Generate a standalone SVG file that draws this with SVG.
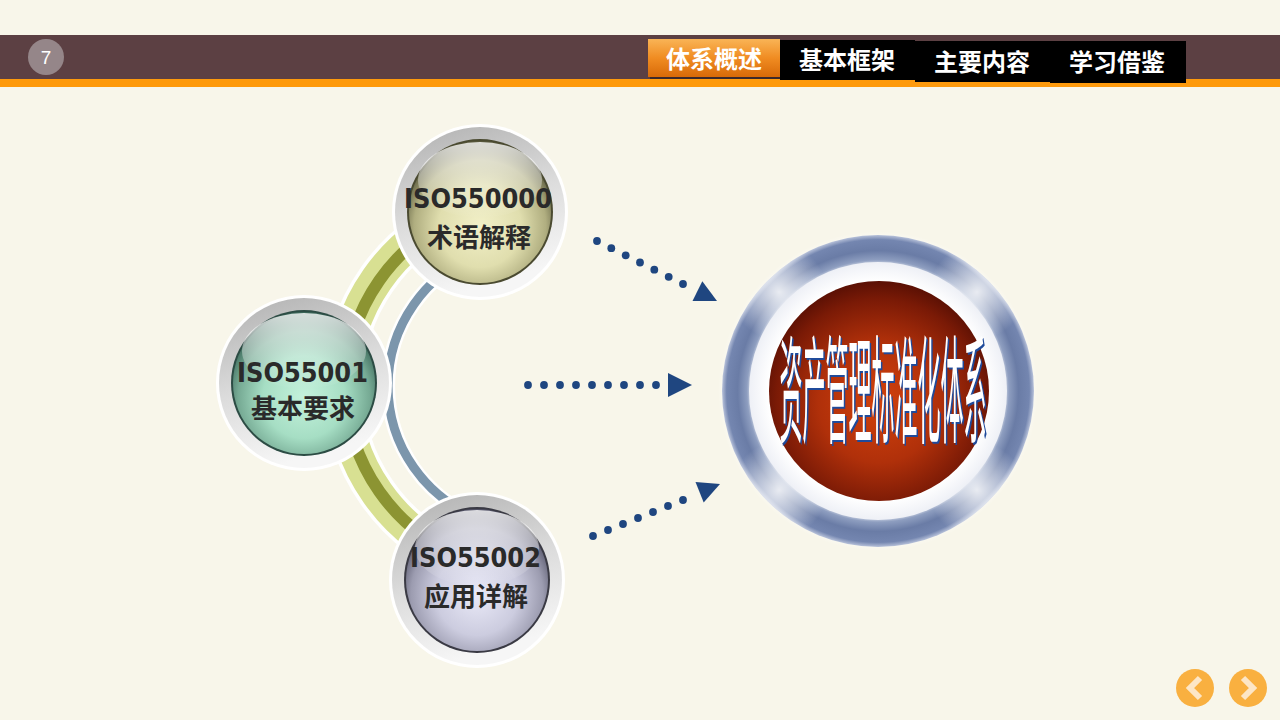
<svg xmlns="http://www.w3.org/2000/svg" width="1280" height="720" viewBox="0 0 1280 720">
<defs>
<style>
.tab{font-family:"Noto Sans CJK SC","Noto Sans",sans-serif;font-weight:700;font-size:24px;fill:#ffffff;text-anchor:middle}
.iso{font-family:"DejaVu Sans","Liberation Sans",sans-serif;font-weight:700;font-size:27px;fill:#2a2a2a;text-anchor:middle}
.cn{font-family:"Noto Sans CJK SC",sans-serif;font-weight:700;font-size:26px;fill:#2a2a2a;text-anchor:middle}
.dot{fill:#1f4680}
.head{fill:#1f4680}
</style>
<linearGradient id="tabG" x1="0" y1="0" x2="0" y2="1">
<stop offset="0" stop-color="#f9b456"/><stop offset="0.5" stop-color="#f08c22"/><stop offset="1" stop-color="#d86a08"/>
</linearGradient>
<linearGradient id="ringGray" x1="0" y1="0" x2="0.3" y2="1">
<stop offset="0" stop-color="#b0b0b0"/><stop offset="0.55" stop-color="#dcdcdc"/><stop offset="1" stop-color="#f6f6f6"/>
</linearGradient>
<radialGradient id="sphY" cx="0.5" cy="0.6" r="0.58">
<stop offset="0" stop-color="#f2f0c8"/><stop offset="0.5" stop-color="#e0deae"/><stop offset="0.8" stop-color="#b0ae80"/><stop offset="1" stop-color="#56563a"/>
</radialGradient>
<radialGradient id="sphG" cx="0.5" cy="0.6" r="0.58">
<stop offset="0" stop-color="#c4f2dc"/><stop offset="0.5" stop-color="#a6dec4"/><stop offset="0.8" stop-color="#76aa94"/><stop offset="1" stop-color="#3a6658"/>
</radialGradient>
<radialGradient id="sphV" cx="0.5" cy="0.6" r="0.58">
<stop offset="0" stop-color="#eaeaf8"/><stop offset="0.5" stop-color="#ccccdf"/><stop offset="0.8" stop-color="#9c9cb0"/><stop offset="1" stop-color="#525266"/>
</radialGradient>
<linearGradient id="hl" x1="0" y1="0" x2="0" y2="1">
<stop offset="0" stop-color="#ffffff" stop-opacity="0.8"/><stop offset="1" stop-color="#ffffff" stop-opacity="0"/>
</linearGradient>
<radialGradient id="redG" cx="0.5" cy="0.55" r="0.55">
<stop offset="0" stop-color="#d2420c"/><stop offset="0.5" stop-color="#b0300a"/><stop offset="0.85" stop-color="#7a1a06"/><stop offset="1" stop-color="#5a1004"/>
</radialGradient>
<radialGradient id="blueRing" cx="0.5" cy="0.5" r="0.5">
<stop offset="0.8" stop-color="#f4f6fa"/><stop offset="0.84" stop-color="#8e9ec0"/><stop offset="0.9" stop-color="#6a7ca6"/><stop offset="0.97" stop-color="#7486b0"/><stop offset="1" stop-color="#b8c2da"/>
</radialGradient>
<radialGradient id="wblob" cx="0.5" cy="0.5" r="0.5">
<stop offset="0" stop-color="#ffffff" stop-opacity="0.85"/><stop offset="0.5" stop-color="#ffffff" stop-opacity="0.45"/><stop offset="1" stop-color="#ffffff" stop-opacity="0"/>
</radialGradient>
<radialGradient id="innerW" cx="0.5" cy="0.5" r="0.5">
<stop offset="0.85" stop-color="#ffffff"/><stop offset="1" stop-color="#eef0f6"/>
</radialGradient>
<radialGradient id="halo" cx="0.5" cy="0.5" r="0.5">
<stop offset="0.9" stop-color="#ffffff" stop-opacity="1"/><stop offset="1" stop-color="#ffffff" stop-opacity="0"/>
</radialGradient>
<clipPath id="bigClip"><circle cx="878" cy="391" r="156"/></clipPath>
</defs>

<rect x="0" y="0" width="1280" height="720" fill="#f8f6ea"/>

<g id="header">
<rect x="0" y="35" width="1280" height="44" fill="#5c4043"/>
<rect x="0" y="79" width="1280" height="8" fill="#fe9a0c"/>
<circle cx="46" cy="57" r="18" fill="#958689"/>
<text x="46" y="64" font-family="Liberation Sans, sans-serif" font-size="19" fill="#ffffff" text-anchor="middle">7</text>
<rect x="650" y="41" width="132" height="38" fill="#000000" opacity="0.35"/>
<rect x="648" y="39" width="132" height="38" fill="url(#tabG)"/>
<text class="tab" x="714" y="68">体系概述</text>
<rect x="780" y="40" width="135" height="40" fill="#000000"/>
<text class="tab" x="847" y="69">基本框架</text>
<rect x="915" y="41" width="135" height="41" fill="#000000"/>
<text class="tab" x="982" y="71">主要内容</text>
<rect x="1050" y="41" width="136" height="42" fill="#000000"/>
<text class="tab" x="1117" y="71">学习借鉴</text>
</g>

<g id="arcs">
<path d="M466.2 210.7 A186.5 186.5 0 0 0 466.2 561.3" fill="none" stroke="#ffffff" stroke-width="40"/>
<path d="M466.2 210.7 A186.5 186.5 0 0 0 466.2 561.3" fill="none" stroke="#d8e092" stroke-width="33"/>
<path d="M467.1 213.1 A184 184 0 0 0 467.1 558.9" fill="none" stroke="#8c9432" stroke-width="12"/>
<path d="M481.4 252.6 A142 142 0 0 0 481.4 519.4" fill="none" stroke="#ffffff" stroke-width="14"/>
<path d="M481.4 252.6 A142 142 0 0 0 481.4 519.4" fill="none" stroke="#7c96ac" stroke-width="9"/>
</g>

<g id="connectors">
<circle class="dot" cx="597" cy="241" r="3.9"/><circle class="dot" cx="611.3" cy="248.2" r="3.9"/><circle class="dot" cx="625.7" cy="255.3" r="3.9"/><circle class="dot" cx="640" cy="262.5" r="3.9"/><circle class="dot" cx="654.3" cy="269.7" r="3.9"/><circle class="dot" cx="668.7" cy="276.8" r="3.9"/><circle class="dot" cx="683" cy="284" r="3.9"/>
<polygon class="head" points="717,301 692.5,300.9 702.3,281.3"/>
<circle class="dot" cx="528" cy="385" r="3.9"/><circle class="dot" cx="544" cy="385" r="3.9"/><circle class="dot" cx="560" cy="385" r="3.9"/><circle class="dot" cx="576" cy="385" r="3.9"/><circle class="dot" cx="592" cy="385" r="3.9"/><circle class="dot" cx="608" cy="385" r="3.9"/><circle class="dot" cx="624" cy="385" r="3.9"/><circle class="dot" cx="640" cy="385" r="3.9"/><circle class="dot" cx="656" cy="385" r="3.9"/>
<polygon class="head" points="692,385 668,373 668,397"/>
<circle class="dot" cx="593" cy="536" r="3.9"/><circle class="dot" cx="608" cy="530" r="3.9"/><circle class="dot" cx="623" cy="524" r="3.9"/><circle class="dot" cx="638" cy="518" r="3.9"/><circle class="dot" cx="653" cy="512" r="3.9"/><circle class="dot" cx="668" cy="506" r="3.9"/><circle class="dot" cx="683" cy="500" r="3.9"/>
<polygon class="head" points="720,484 703.7,502.4 695.5,482"/>
</g>

<g id="node-iso550000">
<circle cx="480" cy="212" r="88" fill="#ffffff"/>
<circle cx="480" cy="212" r="85" fill="url(#ringGray)"/>
<circle cx="480" cy="212" r="73" fill="#4a4a30"/>
<circle cx="480" cy="212" r="71" fill="url(#sphY)"/>
<ellipse cx="480" cy="180" rx="62" ry="38" fill="url(#hl)"/>
<text class="iso" x="478" y="208" textLength="148" lengthAdjust="spacingAndGlyphs">ISO550000</text>
<text class="cn" x="479" y="247">术语解释</text>
</g>

<g id="node-iso55001">
<circle cx="304" cy="383" r="88" fill="#ffffff"/>
<circle cx="304" cy="383" r="85" fill="url(#ringGray)"/>
<circle cx="304" cy="383" r="73" fill="#2c4c44"/>
<circle cx="304" cy="383" r="71" fill="url(#sphG)"/>
<ellipse cx="304" cy="351" rx="62" ry="38" fill="url(#hl)"/>
<text class="iso" x="302.5" y="382" textLength="131" lengthAdjust="spacingAndGlyphs">ISO55001</text>
<text class="cn" x="303" y="418">基本要求</text>
</g>

<g id="node-iso55002">
<circle cx="477" cy="580" r="88" fill="#ffffff"/>
<circle cx="477" cy="580" r="85" fill="url(#ringGray)"/>
<circle cx="477" cy="580" r="73" fill="#3a3a44"/>
<circle cx="477" cy="580" r="71" fill="url(#sphV)"/>
<ellipse cx="477" cy="548" rx="62" ry="38" fill="url(#hl)"/>
<text class="iso" x="475.5" y="567" textLength="131" lengthAdjust="spacingAndGlyphs">ISO55002</text>
<text class="cn" x="476" y="606">应用详解</text>
</g>

<g id="node-system">
<circle cx="878" cy="391" r="160" fill="url(#halo)"/>
<circle cx="878" cy="391" r="156" fill="url(#blueRing)"/>
<g clip-path="url(#bigClip)">
<circle cx="779" cy="292" r="48" fill="url(#wblob)"/>
<circle cx="977" cy="292" r="48" fill="url(#wblob)"/>
<circle cx="779" cy="490" r="48" fill="url(#wblob)"/>
<circle cx="977" cy="490" r="48" fill="url(#wblob)"/>
</g>
<circle cx="878" cy="391" r="129" fill="url(#innerW)"/>
<circle cx="879" cy="391" r="110" fill="url(#redG)"/>
<g transform="translate(883,434) scale(1,5.1)">
<text x="1.5" y="0.4" font-family="Noto Sans CJK SC, sans-serif" font-size="23" fill="#1f4a9a" text-anchor="middle">资产管理标准化体系</text>
<text x="0" y="0" font-family="Noto Sans CJK SC, sans-serif" font-size="23" fill="#ffffff" text-anchor="middle">资产管理标准化体系</text>
</g>
</g>

<g id="nav">
<circle cx="1195" cy="688" r="19" fill="#f9b040"/>
<polyline points="1200,678 1190,688 1200,698" fill="none" stroke="#fde6c6" stroke-width="6"/>
<circle cx="1248" cy="688" r="19" fill="#f9b040"/>
<polyline points="1243,678 1253,688 1243,698" fill="none" stroke="#fde6c6" stroke-width="6"/>
</g>
</svg>
